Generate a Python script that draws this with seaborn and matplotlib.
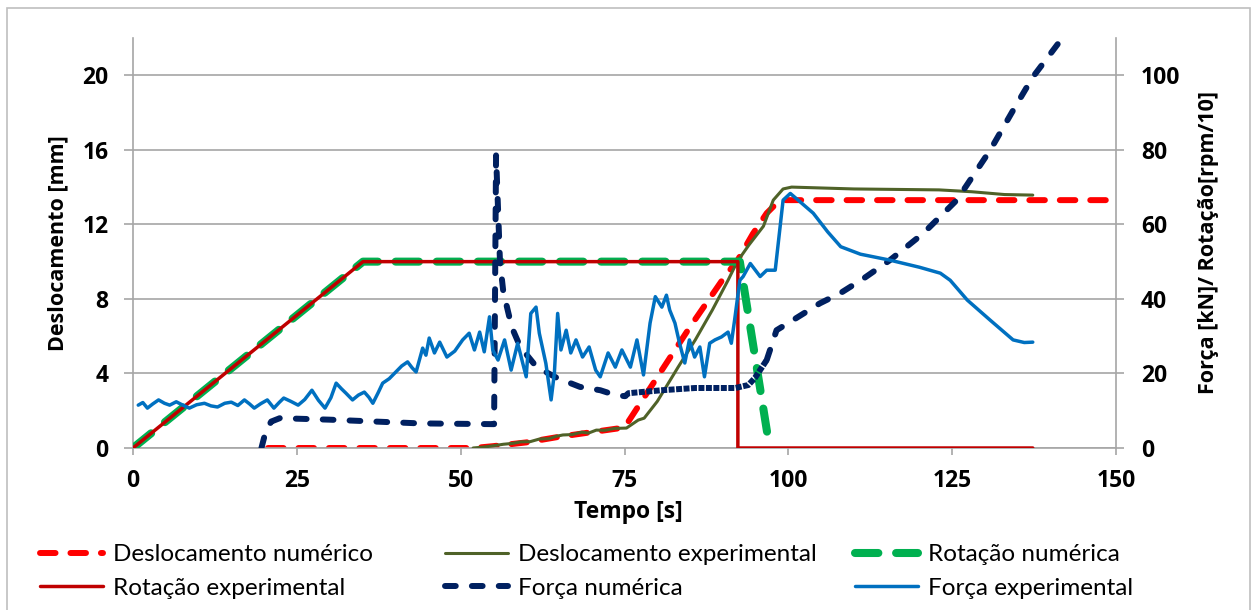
import numpy as np
import pandas as pd
import matplotlib
matplotlib.use("Agg")
import matplotlib.pyplot as plt
import seaborn as sns
from matplotlib.patches import Rectangle

# ---------------- data ----------------
# Deslocamento numérico [mm] (left axis)
t_desl_num = [20.6, 52.0, 55.0, 60.0, 65.0, 70.0, 75.0, 80.0, 85.0, 90.0, 92.3, 94.6, 96.7, 98.7, 150.0]
desl_num = [0.0, 0.0, 0.1, 0.3, 0.6, 0.85, 1.1, 3.8, 6.5, 9.05, 10.1, 11.5, 12.6, 13.3, 13.3]

# Deslocamento experimental [mm] (left axis)
t_desl_exp = [51.9, 53.5, 55.0, 56.5, 58.0, 59.2, 60.6, 62.0, 63.5, 64.5, 65.6, 67.0, 68.5, 69.5,
              70.7, 72.0, 73.5, 75.3, 77.1, 78.0, 80.0, 83.2, 85.8, 88.4, 90.8, 92.2, 94.0, 96.2,
              97.7, 99.2, 100.5, 110.0, 123.0, 128.0, 133.0, 137.3]
desl_exp = [0.0, 0.05, 0.12, 0.2, 0.25, 0.33, 0.34, 0.48, 0.5, 0.62, 0.7, 0.72, 0.85, 0.8,
            0.96, 0.95, 1.05, 1.07, 1.5, 1.6, 2.5, 4.35, 5.8, 7.4, 9.0, 10.0, 10.9, 11.9,
            13.3, 13.9, 14.0, 13.9, 13.85, 13.75, 13.6, 13.57]

# Rotação numérica [rpm/10] (right axis)
t_rot_num = [0.0, 35.1, 92.6, 97.1]
rot_num = [0.0, 50.0, 50.0, 0.5]

# Rotação experimental [rpm/10] (right axis)
t_rot_exp = [0.0, 35.1, 92.3, 92.3, 137.3]
rot_exp = [0.0, 50.0, 50.0, 0.0, 0.0]

# Força numérica [kN] (right axis)
t_forca_num = [19.6, 20.3, 21.1, 22.4, 30.0, 43.8, 55.0, 55.1, 55.4, 56.0, 56.5, 57.8, 59.1, 61.6,
               64.7, 68.2, 71.3, 73.6, 75.1,
               75.6, 80.7, 85.8, 91.9, 93.9, 94.9, 96.7,
               98.2, 100.7, 104.8, 107.9, 111.5, 115.5, 120.6, 125.7, 130.8, 134.3, 137.3, 141.9, 143.5]
forca_num = [0.0, 4.8, 7.1, 8.0, 7.6, 6.6, 6.4, 6.4, 78.5, 50.0, 42.0, 32.4, 27.1, 21.7,
             18.8, 16.4, 15.5, 14.2, 13.9,
             14.7, 15.5, 16.1, 16.1, 16.9, 18.8, 23.6,
             31.6, 34.3, 38.8, 41.5, 45.5, 50.4, 57.6, 66.5, 79.9, 90.6, 99.5, 110.2, 114.0]
dense_start, dense_end = 18, 25   # index range drawn with the dense pattern

# Força experimental [kN] (right axis)
t_forca_exp = [0.8, 1.5, 2.2, 3.0, 3.9, 4.8, 5.6, 6.6, 7.6, 8.6, 9.7, 10.9, 11.9, 12.9, 14.0, 15.0,
               16.0, 17.0, 17.8, 18.5, 19.5, 20.5, 21.5, 22.3, 23.0, 24.1, 25.2, 26.2,
               27.3, 28.3, 29.3, 30.2, 31.0, 31.8, 32.5, 33.5, 34.4, 35.3, 36.0, 36.6, 37.4, 38.1,
               39.1, 40.1, 41.0, 41.9, 42.6, 43.2, 44.2, 44.7, 45.2, 46.0,
               46.8, 47.9, 49.1, 50.3, 51.3, 52.1, 52.9, 53.6, 54.4, 54.9, 55.7, 56.7, 57.7, 58.7,
               60.0, 60.7, 61.5, 62.0, 63.0, 63.8, 64.3, 64.8, 65.3, 66.1, 66.8, 67.6, 68.6, 69.6,
               70.6, 71.3, 72.5, 73.6, 74.6, 75.9, 76.9, 77.9, 78.9, 79.7, 80.7, 81.4, 81.9, 82.7,
               83.4, 84.2, 84.9, 85.7, 86.5, 87.2, 88.0, 88.8, 89.8, 90.8, 91.3, 91.8, 92.6, 93.1,
               94.2, 95.7, 96.7, 98.0, 99.2, 100.3, 101.5, 103.8, 106.0, 108.0, 111.0, 115.5,
               120.0, 123.2, 124.7, 127.3, 130.8, 134.3, 136.0, 137.3]
forca_exp = [11.5, 12.2, 10.7, 11.8, 12.9, 12.0, 11.5, 12.4, 11.5, 10.7, 11.6, 12.0, 11.3, 11.0, 12.0, 12.3,
             11.4, 12.9, 11.8, 10.7, 11.9, 12.9, 10.7, 12.2, 13.4, 12.5, 11.5, 13.0,
             15.5, 12.8, 10.7, 13.5, 17.4, 15.9, 14.7, 12.9, 14.2, 15.0, 13.6, 12.0, 14.8, 17.4,
             18.6, 20.4, 22.0, 23.1, 21.5, 20.4, 26.8, 24.9, 29.5, 25.5,
             28.4, 24.4, 26.0, 29.0, 30.8, 26.3, 31.1, 25.8, 35.2, 26.3, 23.6, 29.0, 20.9, 28.1,
             19.1, 36.1, 37.8, 30.8, 22.7, 12.9, 20.1, 36.1, 26.3, 31.6, 25.5, 29.0, 24.4, 27.1,
             20.9, 19.1, 25.5, 21.7, 26.3, 21.7, 29.0, 19.6, 33.5, 40.6, 37.8, 41.0, 37.0, 33.5,
             28.1, 22.8, 29.0, 24.4, 27.1, 19.1, 28.1, 29.0, 29.8, 31.1, 28.1, 34.3, 45.0, 46.0,
             49.5, 46.0, 47.7, 47.7, 66.5, 68.3, 66.5, 63.0, 58.0, 54.0, 52.0, 50.4,
             48.5, 46.9, 45.0, 39.7, 34.3, 29.0, 28.3, 28.4]

x_ticks = [0, 25, 50, 75, 100, 125, 150]
y_left_ticks = [0, 4, 8, 12, 16, 20]
y_right_ticks = [0, 20, 40, 60, 80, 100]

labels = ["Deslocamento numérico", "Deslocamento experimental", "Rotação numérica",
          "Rotação experimental", "Força numérica", "Força experimental"]

# ---------------- style ----------------
sns.set_theme(style="white")
plt.rcParams["font.family"] = ["Lato", "DejaVu Sans"]
BOLD_FAMILY = ["Open Sans", "DejaVu Sans"]
GRAY = "#A6A6A6"

W, H = 1253, 610
fig = plt.figure(figsize=(W / 100, H / 100), dpi=100)
fig.patch.set_facecolor("white")
ax = fig.add_axes([133 / W, 1 - 448 / H, (1116 - 133) / W, (448 - 38) / H])
ax2 = ax.twinx()

def line(axis, x, y, color, lw, ls, cap="round", z=2):
    sns.lineplot(x=x, y=y, ax=axis, color=color, linewidth=lw, linestyle=ls,
                 estimator=None, sort=False, legend=False, zorder=z,
                 dash_capstyle=cap, solid_capstyle="round", solid_joinstyle="round")
    return axis.lines[-1]

h0 = line(ax, t_desl_num, desl_num, "#FF0000", 4.3, (0, (2.6, 2.5)), z=2)
h1 = line(ax, t_desl_exp, desl_exp, "#4F6228", 2.2, "-", z=3)
h2 = line(ax2, t_rot_num, rot_num, "#00B050", 5.8, (0, (2.9, 2.2)), z=2)
h3 = line(ax2, t_rot_exp, rot_exp, "#C00000", 2.5, "-", z=3)
h4 = line(ax2, t_forca_num[:dense_start + 1], forca_num[:dense_start + 1], "#002060", 4.3,
          (0, (1.8, 2.7)), z=4)
line(ax2, t_forca_num[dense_start:dense_end + 1], forca_num[dense_start:dense_end + 1],
     "#002060", 4.3, (0, (1.0, 0.25)), cap="butt", z=4)
line(ax2, t_forca_num[dense_end:], forca_num[dense_end:], "#002060", 4.3, (0, (1.8, 2.7)), z=4)
h5 = line(ax2, t_forca_exp, forca_exp, "#0070C0", 2.5, "-", z=5)

# ---------------- axes ----------------
ax.set_xlim(0, 150)
ax.set_ylim(0, 22)
ax2.set_ylim(0, 110)
ax.set_xticks(x_ticks)
ax.set_yticks(y_left_ticks)
ax2.set_yticks(y_right_ticks)

ax.grid(axis="y", color=GRAY, linewidth=1.2)
ax.grid(axis="x", visible=False)
ax2.grid(False)
ax.set_axisbelow(True)

for s in ["top", "right"]:
    ax.spines[s].set_visible(False)
for s in ["top", "left", "bottom"]:
    ax2.spines[s].set_visible(False)
for sp in [ax.spines["left"], ax.spines["bottom"], ax2.spines["right"]]:
    sp.set_color(GRAY)
    sp.set_linewidth(1.2)

ax.tick_params(axis="y", direction="out", length=6.5, width=1.2, color=GRAY, pad=11,
               labelsize=16.5, left=True)
ax.tick_params(axis="x", direction="out", length=5, width=1.2, color=GRAY, pad=10,
               labelsize=16.5, bottom=True)
ax2.tick_params(axis="y", direction="out", length=6, width=1.2, color=GRAY, pad=12,
                labelsize=16.5, right=True)
for tl in ax.get_xticklabels() + ax.get_yticklabels() + ax2.get_yticklabels():
    tl.set_fontweight("bold")
    tl.set_family(BOLD_FAMILY)
    tl.set_color("black")

ax.set_ylabel("Deslocamento [mm]", fontsize=15.5, fontweight="bold", color="black", va="center",
              family=BOLD_FAMILY)
ax.yaxis.set_label_coords((58 - 133) / 983, 0.5)
ax2.set_ylabel("Força [kN]/ Rotação[rpm/10]", fontsize=15.5, fontweight="bold", color="black",
               va="center", rotation=90, family=BOLD_FAMILY)
ax2.yaxis.set_label_coords((1208 - 133) / 983, 0.5)
ax.set_xlabel("Tempo [s]", fontsize=16.5, fontweight="bold", color="black", va="center",
              family=BOLD_FAMILY)
ax.xaxis.set_label_coords((628 - 133) / 983, (448 - 512) / 410)

# ---------------- legend (three columns) ----------------
handles = [h0, h1, h2, h3, h4, h5]
col_x = [40, 445, 855]
for c in range(3):
    leg = fig.legend(handles=[handles[c], handles[c + 3]], labels=[labels[c], labels[c + 3]],
                     loc="center left", bbox_to_anchor=(col_x[c] / W, 1 - 571.5 / H),
                     frameon=False, fontsize=17.5, handlelength=2.6, handletextpad=0.4,
                     borderpad=0, borderaxespad=0, labelspacing=0.5)
    for t in leg.get_texts():
        t.set_color("black")

# outer chart border
fig.patches.append(Rectangle((7 / W, -0.02), (1250 - 7) / W, 1.02 - 8 / H,
                             transform=fig.transFigure, fill=False,
                             edgecolor="#BFBFBF", linewidth=1.2))

fig.savefig("out.png", dpi=100, facecolor="white")
